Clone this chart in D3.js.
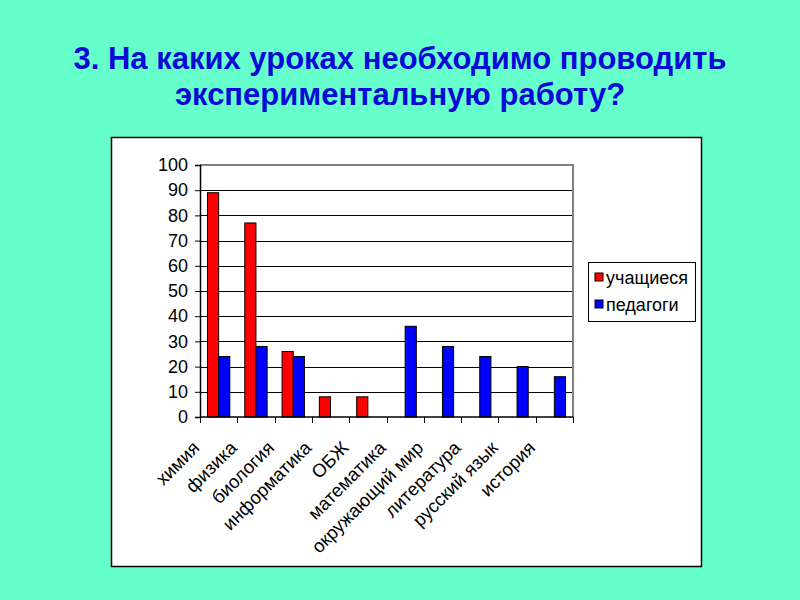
<!DOCTYPE html>
<html>
<head>
<meta charset="utf-8">
<script src="https://cdn.jsdelivr.net/npm/d3@7"></script>
<style>
  html, body { margin: 0; padding: 0; background: #66ffcc; }
  svg { display: block; }
</style>
</head>
<body>
<svg id="chart" width="800" height="600"></svg>
<script>
// Data
const categories = ['химия', 'физика', 'биология', 'информатика', 'ОБЖ', 'математика',
  'окружающий мир', 'литература', 'русский язык', 'история'];
const students = [89, 77, 26, 8, 8, null, null, null, null, null];
const teachers = [24, 28, 24, null, null, 36, 28, 24, 20, 16];
const seriesNames = ['учащиеся', 'педагоги'];
const seriesColors = ['#ff0000', '#0000ff'];
const yTicks = [0, 10, 20, 30, 40, 50, 60, 70, 80, 90, 100];
const titleLines = ['3. На каких уроках необходимо проводить', 'экспериментальную работу?'];

const FONT = '"Liberation Sans", Arial, sans-serif';
const svg = d3.select('#chart');

svg.append('rect').attr('width', 800).attr('height', 600).attr('fill', '#66ffcc');

// Title
svg.append('g')
  .selectAll('text')
  .data(titleLines)
  .join('text')
  .attr('x', 400)
  .attr('y', (d, i) => 69 + i * 36)
  .attr('text-anchor', 'middle')
  .attr('font-family', FONT)
  .attr('font-weight', 'bold')
  .attr('font-size', 31)
  .attr('fill', '#0a0ad6')
  .text(d => d);

// White chart box
svg.append('rect')
  .attr('x', 111.5).attr('y', 137.5)
  .attr('width', 590).attr('height', 429)
  .attr('fill', '#ffffff')
  .attr('stroke', '#000000')
  .attr('stroke-width', 1.5);

const plot = { left: 200, right: 573, top: 165, bottom: 417 };

const x = d3.scaleBand().domain(categories).range([plot.left, plot.right]).padding(0);
const x1 = d3.scaleBand().domain(seriesNames).range([0, x.bandwidth()]).paddingInner(0).paddingOuter(0.67);
const y = d3.scaleLinear().domain([0, 100]).range([plot.bottom, plot.top]);

// Gridlines
const g = svg.append('g');
g.selectAll('line.grid')
  .data(yTicks.filter(t => t > 0 && t < 100))
  .join('line')
  .attr('class', 'grid')
  .attr('x1', plot.left).attr('x2', plot.right)
  .attr('y1', d => Math.round(y(d)) + 0.5).attr('y2', d => Math.round(y(d)) + 0.5)
  .attr('stroke', '#000').attr('stroke-width', 1);

// Plot border (grey) top and right
g.append('path')
  .attr('d', `M${plot.left},${y(100)}H${plot.right}V${plot.bottom}`)
  .attr('fill', 'none')
  .attr('stroke', '#808080')
  .attr('stroke-width', 2);

// Bars
const rows = categories.map((c, i) => ({ c, vals: [students[i], teachers[i]] }));
const groups = g.selectAll('g.cat')
  .data(rows)
  .join('g')
  .attr('class', 'cat')
  .attr('transform', d => `translate(${x(d.c)},0)`);

groups.selectAll('rect')
  .data(d => d.vals.map((v, k) => ({ v, k })).filter(o => o.v != null))
  .join('rect')
  .attr('x', d => x1(seriesNames[d.k]))
  .attr('y', d => y(d.v))
  .attr('width', x1.bandwidth())
  .attr('height', d => y(0) - y(d.v))
  .attr('fill', d => seriesColors[d.k])
  .attr('stroke', '#000')
  .attr('stroke-width', 1);

// Y axis
const yAxis = d3.axisLeft(y).tickValues(yTicks).tickSize(5).tickPadding(7);
svg.append('g')
  .attr('transform', `translate(${plot.left},0)`)
  .call(yAxis)
  .call(a => a.select('.domain').attr('stroke', '#000').attr('stroke-width', 1.5))
  .call(a => a.selectAll('.tick line').attr('stroke', '#000'))
  .call(a => a.selectAll('text')
    .attr('font-family', FONT).attr('font-size', 18).attr('fill', '#000'));

// X axis: ticks at category boundaries
const xa = svg.append('g');
xa.append('line')
  .attr('x1', plot.left).attr('x2', plot.right)
  .attr('y1', plot.bottom).attr('y2', plot.bottom)
  .attr('stroke', '#000').attr('stroke-width', 1.5);
xa.selectAll('line.tk')
  .data(categories.map(c => x(c)).concat([plot.right]))
  .join('line')
  .attr('class', 'tk')
  .attr('x1', d => Math.round(d) + 0.5).attr('x2', d => Math.round(d) + 0.5)
  .attr('y1', plot.bottom).attr('y2', plot.bottom + 6)
  .attr('stroke', '#000');
xa.selectAll('text')
  .data(categories)
  .join('text')
  .attr('transform', d => `translate(${x(d) + x.bandwidth() / 2 - 18},${plot.bottom + 32}) rotate(-45)`)
  .attr('text-anchor', 'end')
  .attr('font-family', FONT)
  .attr('font-size', 18.5)
  .attr('fill', '#000')
  .text(d => d);

// Legend
const lg = svg.append('g');
lg.append('rect')
  .attr('x', 588.5).attr('y', 262.5)
  .attr('width', 107).attr('height', 59)
  .attr('fill', '#fff').attr('stroke', '#000').attr('stroke-width', 1);
const items = lg.selectAll('g.item')
  .data(seriesNames)
  .join('g')
  .attr('class', 'item')
  .attr('transform', (d, i) => `translate(595,${273 + i * 27})`);
items.append('rect')
  .attr('width', 8).attr('height', 8)
  .attr('fill', (d, i) => seriesColors[i])
  .attr('stroke', '#000').attr('stroke-width', 1);
items.append('text')
  .attr('x', 11).attr('y', 10.5)
  .attr('font-family', FONT)
  .attr('font-size', 18)
  .attr('fill', '#000')
  .text(d => d);
</script>
</body>
</html>
